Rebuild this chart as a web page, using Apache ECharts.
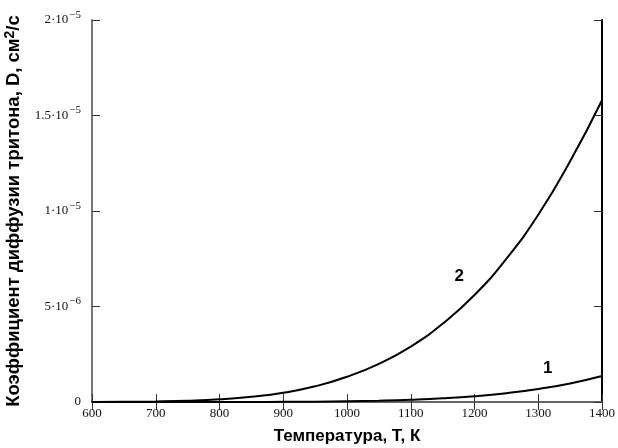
<!DOCTYPE html>
<html>
<head>
<meta charset="utf-8">
<script src="https://cdn.jsdelivr.net/npm/echarts@6/dist/echarts.min.js"></script>
<style>
html,body{margin:0;padding:0;background:#fff;}
#c{width:618px;height:448px;}
</style>
</head>
<body>
<div id="c"></div>
<script>
// Temperature, K
const temps = [600, 650, 700, 750, 800, 850, 900, 950, 1000, 1050, 1100, 1150, 1200, 1250, 1300, 1350, 1400];
// Curve 2 diffusion coefficient, cm2/s
const curve2 = [0.003e-6, 0.009e-6, 0.028e-6, 0.067e-6, 0.14e-6, 0.27e-6, 0.48e-6, 0.82e-6, 1.32e-6, 2.0e-6, 2.9e-6, 4.1e-6, 5.6e-6, 7.5e-6, 9.8e-6, 12.6e-6, 15.8e-6];
// Curve 1 diffusion coefficient, cm2/s
const curve1 = [0, 0.00005e-6, 0.0002e-6, 0.0007e-6, 0.002e-6, 0.005e-6, 0.009e-6, 0.018e-6, 0.037e-6, 0.068e-6, 0.117e-6, 0.19e-6, 0.30e-6, 0.46e-6, 0.68e-6, 0.97e-6, 1.36e-6];
// Y tick labels (mantissa, exponent)
const yTickValues = [0, 5e-6, 1e-5, 1.5e-5, 2e-5];
const yTickLabels = [['0', ''], ['5·10', '−6'], ['1·10', '−5'], ['1.5·10', '−5'], ['2·10', '−5']];
const curveNames = ['1', '2'];

const chart = echarts.init(document.getElementById('c'), null, {renderer: 'canvas'});
const lblFont = 'Liberation Serif';
const boldFont = 'Liberation Sans';

function yFmt(v) {
  for (let i = 0; i < yTickValues.length; i++) {
    if (Math.abs(v - yTickValues[i]) < 1e-9) {
      const t = yTickLabels[i];
      return t[1] ? '{b|' + t[0] + '}{s|' + t[1] + '}' : '{b|' + t[0] + '}';
    }
  }
  return '';
}

const option = {
  animation: false,
  backgroundColor: '#fff',
  grid: {left: 92, right: 16, top: 20, bottom: 46, containLabel: false, outerBoundsMode: 'none'},
  xAxis: [{
    type: 'value', min: 600, max: 1400, interval: 100,
    name: 'Температура, Т, К', nameLocation: 'middle', nameGap: 26,
    nameTextStyle: {fontFamily: boldFont, fontWeight: 'bold', fontSize: 17, color: '#000'},
    axisLine: {show: true, lineStyle: {color: '#000', width: 2}},
    axisTick: {show: true, inside: true, length: 8, lineStyle: {color: '#333', width: 1}},
    axisLabel: {fontFamily: lblFont, fontSize: 13, color: '#111', margin: 5, formatter: v => String(v)},
    splitLine: {show: false}
  }, {
    type: 'value', min: 600, max: 1400, interval: 100, position: 'top',
    axisLine: {show: true, lineStyle: {color: '#666', width: 2}},
    axisTick: {show: true, inside: true, length: 8, lineStyle: {color: '#333', width: 1}},
    axisLabel: {show: false}, splitLine: {show: false}
  }],
  yAxis: [{
    type: 'value', min: 0, max: 2e-5, interval: 5e-6,
    name: 'Коэффициент диффузии тритона, D, см{sup|2}/с', nameLocation: 'middle', nameGap: 60,
    nameTextStyle: {fontFamily: boldFont, fontWeight: 'bold', fontSize: 18.5, color: '#000',
      rich: {sup: {fontFamily: boldFont, fontWeight: 'bold', fontSize: 14, color: '#000', padding: [0, 0, 8, 0]}}},
    axisLine: {show: true, lineStyle: {color: '#777', width: 2}},
    axisTick: {show: true, inside: true, length: 8, lineStyle: {color: '#333', width: 1}},
    axisLabel: {
      margin: 11, formatter: yFmt,
      rich: {
        b: {fontFamily: lblFont, fontSize: 13, color: '#111'},
        s: {fontFamily: lblFont, fontSize: 11, color: '#111', padding: [0, 0, 10, 1]}
      }
    },
    splitLine: {show: false}
  }, {
    type: 'value', min: 0, max: 2e-5, interval: 5e-6, position: 'right',
    axisLine: {show: true, lineStyle: {color: '#000', width: 2}},
    axisTick: {show: true, inside: true, length: 8, lineStyle: {color: '#333', width: 1}},
    axisLabel: {show: false}, splitLine: {show: false}
  }],
  series: [{
    name: curveNames[0], type: 'line', smooth: true, symbol: 'none',
    data: temps.map((t, i) => [t, curve1[i]]),
    lineStyle: {color: '#000', width: 2},
    markPoint: {
      symbol: 'circle', symbolSize: 0,
      label: {show: true, formatter: curveNames[0], fontFamily: boldFont, fontWeight: 'bold', fontSize: 17, color: '#000', position: 'inside'},
      data: [{coord: [1315, 1.75e-6]}]
    }
  }, {
    name: curveNames[1], type: 'line', smooth: true, symbol: 'none',
    data: temps.map((t, i) => [t, curve2[i]]),
    lineStyle: {color: '#000', width: 2},
    markPoint: {
      symbol: 'circle', symbolSize: 0,
      label: {show: true, formatter: curveNames[1], fontFamily: boldFont, fontWeight: 'bold', fontSize: 17, color: '#000', position: 'inside'},
      data: [{coord: [1176, 6.6e-6]}]
    }
  }]
};
chart.setOption(option);
</script>
</body>
</html>
